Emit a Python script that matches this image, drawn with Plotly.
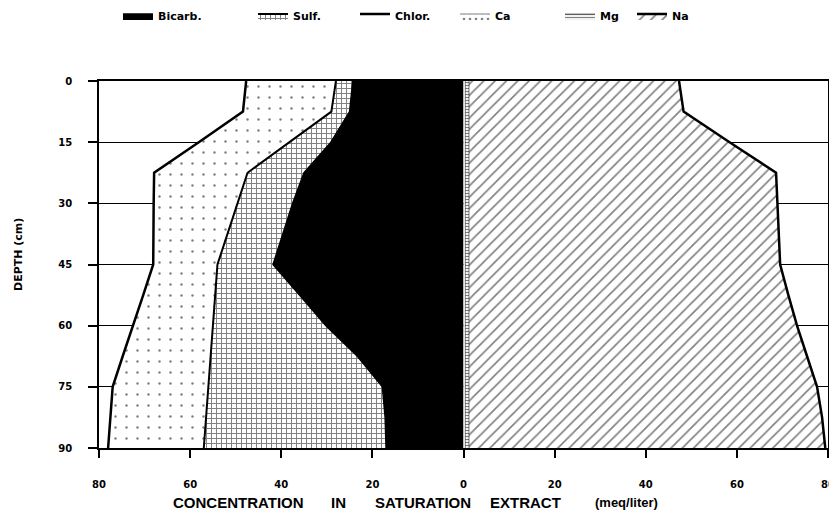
import plotly.graph_objects as go

# ---- data (meq/liter) ----
depth = [0, 7.5, 15, 22.5, 30, 37.5, 45, 52.5, 60, 67.5, 75, 82.5, 90]

# anions (plotted to the left)
bicarb = [24.3, 25.0, 29.1, 35.0, 37.5, 39.6, 41.8, 36.0, 30.2, 23.3, 17.8, 17.2, 17.0]
bicarb_sulf = [28.0, 29.0, 38.2, 47.4, 49.6, 51.8, 54.0, 54.5, 55.0, 55.5, 56.0, 56.5, 57.0]
anion_total = [47.7, 48.4, 58.1, 67.9, 68.0, 68.0, 68.1, 70.3, 72.6, 74.8, 77.0, 77.5, 78.0]
sulf = [round(b - a, 2) for a, b in zip(bicarb, bicarb_sulf)]
chlor = [round(t - b, 2) for b, t in zip(bicarb_sulf, anion_total)]

# cations (plotted to the right)
ca = [0.4] * len(depth)
mg = [0.8] * len(depth)
cation_total = [47.3, 48.3, 58.4, 68.6, 68.9, 69.2, 69.5, 71.3, 73.2, 75.4, 77.6, 78.7, 79.4]
na = [round(t - c - m, 2) for t, c, m in zip(cation_total, ca, mg)]

x_tickvals = [-80, -60, -40, -20, 0, 20, 40, 60, 80]
x_ticktext = ["80", "60", "40", "20", "0", "20", "40", "60", "80"]
y_tickvals = [0, 15, 30, 45, 60, 75, 90]

title_words = ["CONCENTRATION", "IN", "SATURATION", "EXTRACT", "(meq/liter)"]
title_word_x = [238, 338, 423, 525, 626]  # page-pixel centres of words

legend_x_px = [118, 253, 355, 455, 560, 632]

FONT = "DejaVu Sans"
TITLE_FONT = "Liberation Sans"

def cum(*series):
    return [round(sum(v), 2) for v in zip(*series)]

fig = go.Figure()

# left side: negative x
left_bicarb = [-v for v in bicarb]
left_sulf = [-v for v in cum(bicarb, sulf)]
left_chlor = [-v for v in cum(bicarb, sulf, chlor)]

fig.add_trace(go.Scatter(
    x=left_bicarb, y=depth, name="Bicarb.", mode="lines",
    line=dict(color="black", width=1.5), fill="tozerox", fillcolor="black",
    legend="legend"))
fig.add_trace(go.Scatter(
    x=left_sulf, y=depth, name="Sulf.", mode="lines",
    line=dict(color="black", width=2), fill="tonextx", fillcolor="white",
    fillpattern=dict(shape="+", size=5, solidity=0.35, fgcolor="black", bgcolor="white"),
    legend="legend2"))
fig.add_trace(go.Scatter(
    x=left_chlor, y=depth, name="Chlor.", mode="lines",
    line=dict(color="black", width=2.5), fill="tonextx", fillcolor="white",
    fillpattern=dict(shape=".", size=11, solidity=0.04, fgcolor="black", bgcolor="white"),
    legend="legend3"))

# right side
r_ca = ca
r_mg = cum(ca, mg)
r_na = cum(ca, mg, na)
fig.add_trace(go.Scatter(
    x=r_ca, y=depth, name="Ca", mode="lines",
    line=dict(color="black", width=0.5), fill="tozerox", fillcolor="white",
    fillpattern=dict(shape=".", size=6, solidity=0.15, fgcolor="black", bgcolor="white"),
    legend="legend4"))
fig.add_trace(go.Scatter(
    x=r_mg, y=depth, name="Mg", mode="lines",
    line=dict(color="black", width=0.5), fill="tonextx", fillcolor="white",
    fillpattern=dict(shape="-", size=3, solidity=0.4, fgcolor="black", bgcolor="white"),
    legend="legend5"))
fig.add_trace(go.Scatter(
    x=r_na, y=depth, name="Na", mode="lines",
    line=dict(color="black", width=2.5), fill="tonextx", fillcolor="white",
    fillpattern=dict(shape="/", size=8, solidity=0.2, fgcolor="black", bgcolor="white"),
    legend="legend6"))

# page body has an 8px margin; size the figure so the plot lands where the reference has it
OFF = 8
W, H = 837 - OFF, 511 - OFF
ML, MR, MT, MB = 99 - OFF, 9, 81 - OFF, 63
PW, PH = W - ML - MR, H - MT - MB

def px2paper_x(px):
    return (px - OFF - ML) / PW

def py2paper_y(py):
    return 1 - (py - OFF - MT) / PH

legend_font = dict(family=FONT, size=11, color="black", weight="bold")
layout_legends = {}
for i, lx in enumerate(legend_x_px):
    key = "legend" if i == 0 else f"legend{i+1}"
    layout_legends[key] = dict(
        x=px2paper_x(lx), y=py2paper_y(16), xanchor="left", yanchor="middle",
        orientation="h", font=legend_font, bgcolor="rgba(0,0,0,0)",
        itemwidth=30, tracegroupgap=0)

annotations = []
for word, wx in zip(title_words, title_word_x):
    annotations.append(dict(
        text=word, x=px2paper_x(wx), y=py2paper_y(502), xref="paper", yref="paper",
        showarrow=False, xanchor="center", yanchor="middle",
        font=dict(family=TITLE_FONT, size=15 if word[0] != "(" else 13, color="black", weight="bold")))
annotations.append(dict(
    text="DEPTH (cm)", x=px2paper_x(18), y=py2paper_y(255), xref="paper", yref="paper",
    showarrow=False, textangle=-90, xanchor="center", yanchor="middle",
    font=dict(family=FONT, size=11, color="black", weight="bold")))

fig.update_layout(
    width=W, height=H,
    margin=dict(l=ML, r=MR, t=MT, b=MB, autoexpand=False),
    paper_bgcolor="white", plot_bgcolor="white",
    showlegend=True,
    annotations=annotations,
    **layout_legends,
)
fig.update_xaxes(
    range=[-80, 80], tickvals=x_tickvals, ticktext=x_ticktext,
    showgrid=False, zeroline=False, showline=True, linecolor="black", linewidth=1.5,
    mirror=True, ticks="outside", ticklen=8, tickcolor="black", tickwidth=1.5,
    ticklabelstandoff=18, automargin=False,
    tickfont=dict(family=FONT, size=10, color="black", weight="bold"))
fig.update_yaxes(
    range=[90, 0], tickvals=y_tickvals,
    showgrid=True, gridcolor="black", gridwidth=1,
    zeroline=False, showline=True, linecolor="black", linewidth=1.5,
    mirror=True, ticks="outside", ticklen=9, tickcolor="black", tickwidth=1.5,
    ticklabelstandoff=14, automargin=False,
    tickfont=dict(family=FONT, size=10, color="black", weight="bold"))

fig.write_html("out.html")
